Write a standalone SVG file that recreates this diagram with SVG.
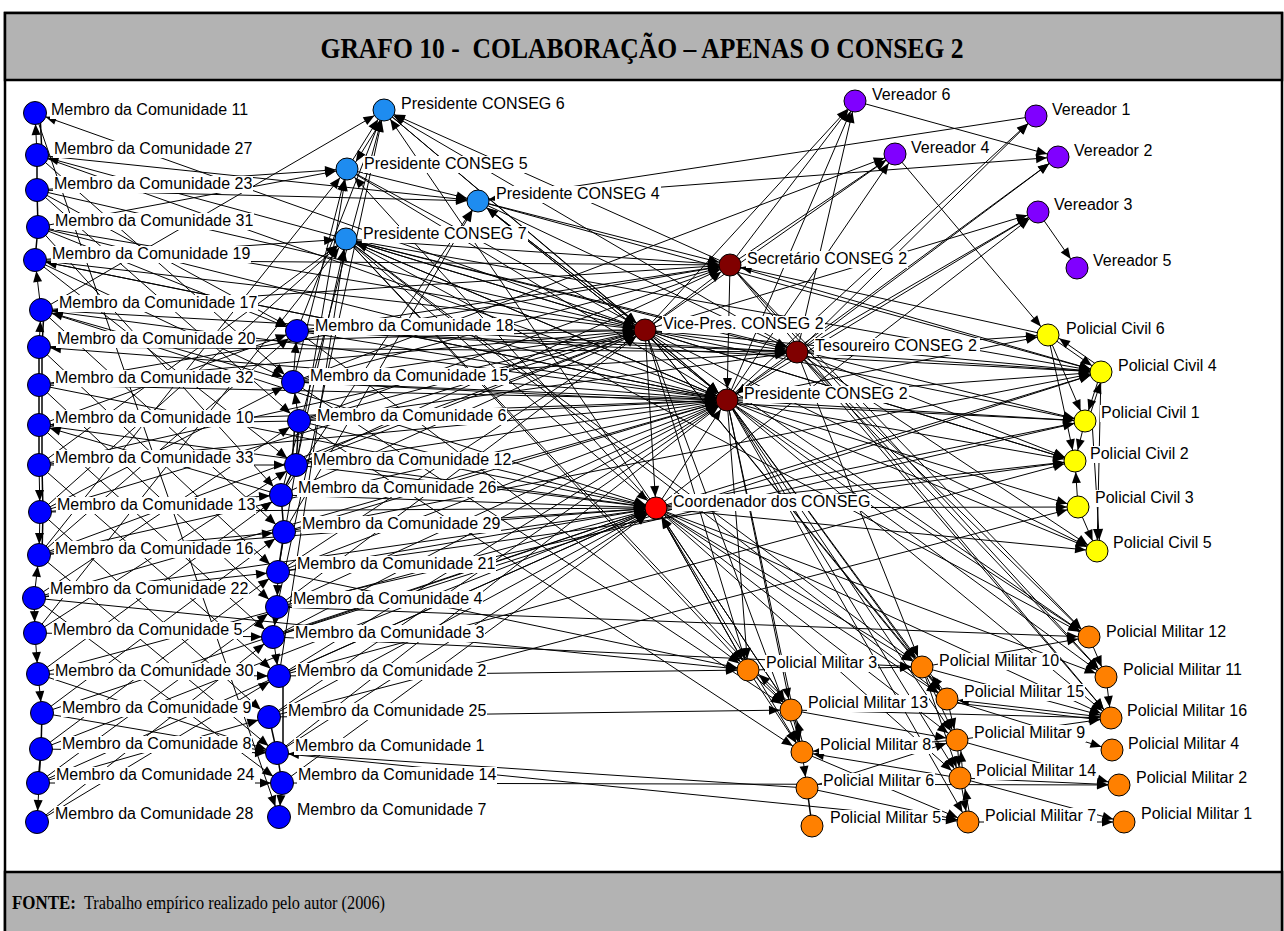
<svg xmlns="http://www.w3.org/2000/svg" width="1284" height="931" viewBox="0 0 1284 931">
<style>
.e path{fill:none;stroke:#000;stroke-width:1;marker-end:url(#ah)}
.p path{fill:none;stroke:#000;stroke-width:1.5}
.lb{fill:#fff}
.lt{font-family:"Liberation Sans",Arial,sans-serif;font-size:16px;fill:#000}
.n{stroke:#000;stroke-width:1}
.cm{fill:#0000ff}.cp{fill:#1e8cf0}.cv{fill:#8000ff}.cd{fill:#800000}.cr{fill:#ff0000}.cy{fill:#ffff00}.co{fill:#ff8000}
.hd{font-family:"Liberation Serif","Times New Roman",serif;fill:#000}
</style>
<defs>
<marker id="ah" viewBox="0 0 11 9" refX="22" refY="4.5" markerWidth="11" markerHeight="9" markerUnits="userSpaceOnUse" orient="auto" overflow="visible"><path d="M0,0L11,4.5L0,9z" fill="#000"/></marker>
</defs>

<!-- frame, title band and source band -->
<rect x="5" y="13" width="1277" height="930" fill="#fff" stroke="#000" stroke-width="2.5"/>
<rect x="5" y="13" width="1277" height="67" fill="#b3b3b3" stroke="#000" stroke-width="2.5"/>
<text class="hd" x="642" y="58" text-anchor="middle" font-size="29" font-weight="bold" textLength="643" lengthAdjust="spacingAndGlyphs">GRAFO 10 - &#160;COLABORAÇÃO – APENAS O CONSEG 2</text>

<g id="connectors">
<g class="p">
<path d="M40 113L42 155"/><path d="M37 190L37 155"/><path d="M38 227L37 190"/><path d="M38 227L35 260"/>
<path d="M44 310L42 347"/><path d="M39 347L39 385"/><path d="M42 347L42 385"/><path d="M39 385L39 425"/>
<path d="M42 385L42 425"/><path d="M39 425L39 465"/><path d="M42 425L42 465"/><path d="M42 465L43 512"/>
<path d="M43 512L42 555"/><path d="M42 713L41 749"/><path d="M41 749L38 783"/><path d="M296 465L299 421"/>
<path d="M292 465L295 421"/><path d="M281 495L296 465"/><path d="M284 532L281 495"/><path d="M278 572L284 532"/>
<path d="M283 676L283 753"/><path d="M269 717L277 753"/><path d="M277 753L282 783"/><path d="M807 788L812 826"/>
</g>
<g class="e">
<path d="M37 155L35 113"/><path d="M41 310L35 260"/><path d="M39 347L41 310"/><path d="M39 465L40 512"/>
<path d="M40 512L39 555"/><path d="M34 598L39 555"/><path d="M34 598L35 633"/><path d="M35 633L38 674"/>
<path d="M38 674L42 713"/><path d="M41 749L37 822"/><path d="M293 382L297 331"/><path d="M299 421L293 382"/>
<path d="M278 572L277 607"/><path d="M277 607L273 637"/><path d="M273 637L279 676"/><path d="M282 783L279 817"/>
<path d="M35 113L279 817"/><path d="M42 713L277 753"/><path d="M41 749L277 753"/><path d="M38 783L282 783"/>
<path d="M299 421L39 425"/><path d="M281 495L39 425"/><path d="M293 382L41 310"/><path d="M39 465L296 465"/>
<path d="M40 512L281 495"/><path d="M35 633L273 637"/><path d="M38 674L279 676"/><path d="M39 555L284 532"/>
<path d="M34 598L278 572"/><path d="M35 260L293 382"/>
<path d="M37 155L293 382"/><path d="M37 190L299 421"/><path d="M38 227L281 495"/><path d="M35 260L296 465"/>
<path d="M41 310L284 532"/><path d="M39 347L278 572"/><path d="M39 385L277 607"/><path d="M39 425L273 637"/>
<path d="M39 465L279 676"/><path d="M40 512L269 717"/><path d="M39 555L277 753"/><path d="M34 598L282 783"/>
<path d="M39 555L297 331"/><path d="M40 512L293 382"/><path d="M34 598L299 421"/><path d="M35 633L296 465"/>
<path d="M38 674L281 495"/><path d="M42 713L284 532"/><path d="M41 749L278 572"/><path d="M38 783L277 607"/>
<path d="M37 822L273 637"/><path d="M37 822L279 676"/><path d="M38 783L269 717"/><path d="M38 674L277 753"/>
<path d="M39 425L297 331"/><path d="M38 227L297 331"/><path d="M37 190L297 331"/>
<path d="M41 310L384 110"/><path d="M38 227L347 169"/><path d="M35 260L346 239"/><path d="M37 155L478 201"/>
<path d="M37 190L478 201"/><path d="M346 239L37 155"/><path d="M37 190L347 169"/><path d="M39 465L346 239"/>
<path d="M40 512L346 239"/><path d="M39 555L347 169"/><path d="M35 633L346 239"/><path d="M281 495L384 110"/>
<path d="M278 572L347 169"/><path d="M277 607L384 110"/><path d="M279 676L346 239"/><path d="M281 495L478 201"/>
<path d="M284 532L478 201"/><path d="M296 465L346 239"/><path d="M297 331L384 110"/><path d="M293 382L347 169"/>
<path d="M347 169L384 110"/><path d="M387 112L350 171"/><path d="M347 169L478 201"/><path d="M656 508L347 169"/>
<path d="M656 508L384 110"/><path d="M730 265L384 110"/><path d="M797 352L384 110"/><path d="M645 330L478 201"/>
<path d="M727 400L478 201"/><path d="M1036 116L478 201"/><path d="M478 201L1058 157"/><path d="M727 400L346 239"/>
<path d="M346 239L645 330"/><path d="M346 239L727 400"/><path d="M346 239L656 508"/><path d="M346 239L797 352"/>
<path d="M346 239L730 265"/><path d="M346 239L1085 421"/><path d="M346 239L1075 461"/><path d="M346 239L1101 372"/>
<path d="M346 239L922 667"/><path d="M346 239L791 710"/><path d="M346 239L947 699"/><path d="M346 239L1089 637"/>
<path d="M346 239L748 670"/><path d="M384 110L645 330"/><path d="M347 169L645 330"/><path d="M347 169L727 400"/>
<path d="M478 201L645 330"/><path d="M478 201L727 400"/><path d="M478 201L730 265"/><path d="M478 201L1101 372"/>
<path d="M478 201L797 352"/><path d="M384 110L727 400"/>
<path d="M37 190L645 330"/><path d="M38 227L645 330"/><path d="M35 260L645 330"/><path d="M39 347L645 330"/>
<path d="M39 385L645 330"/><path d="M39 465L645 330"/><path d="M40 512L645 330"/><path d="M297 331L645 330"/>
<path d="M293 382L645 330"/><path d="M299 421L645 330"/><path d="M296 465L645 330"/><path d="M281 495L645 330"/>
<path d="M278 572L645 330"/><path d="M277 607L645 330"/><path d="M39 555L645 330"/><path d="M645 330L35 113"/>
<path d="M37 155L727 400"/><path d="M38 227L727 400"/><path d="M35 260L727 400"/><path d="M41 310L727 400"/>
<path d="M727 400L39 347"/><path d="M39 385L727 400"/><path d="M39 425L727 400"/><path d="M39 465L727 400"/>
<path d="M39 555L727 400"/><path d="M34 598L727 400"/><path d="M297 331L727 400"/><path d="M293 382L727 400"/>
<path d="M299 421L727 400"/><path d="M296 465L727 400"/><path d="M284 532L727 400"/><path d="M278 572L727 400"/>
<path d="M277 607L727 400"/><path d="M273 637L727 400"/><path d="M279 676L727 400"/><path d="M269 717L727 400"/>
<path d="M277 753L727 400"/><path d="M727 400L35 260"/><path d="M797 352L41 310"/>
<path d="M41 310L656 508"/><path d="M39 385L656 508"/><path d="M39 425L656 508"/><path d="M40 512L656 508"/>
<path d="M39 555L656 508"/><path d="M34 598L656 508"/><path d="M38 674L656 508"/><path d="M42 713L656 508"/>
<path d="M38 783L656 508"/><path d="M299 421L656 508"/><path d="M296 465L656 508"/><path d="M281 495L656 508"/>
<path d="M284 532L656 508"/><path d="M278 572L656 508"/><path d="M273 637L656 508"/><path d="M279 676L656 508"/>
<path d="M269 717L656 508"/><path d="M277 753L656 508"/><path d="M282 783L656 508"/><path d="M41 749L656 508"/>
<path d="M35 260L730 265"/><path d="M39 385L730 265"/><path d="M297 331L730 265"/><path d="M293 382L730 265"/>
<path d="M296 465L730 265"/><path d="M41 310L730 265"/><path d="M299 421L730 265"/>
<path d="M293 382L797 352"/><path d="M299 421L797 352"/><path d="M297 331L797 352"/><path d="M39 347L797 352"/>
<path d="M645 330L727 400"/><path d="M797 352L727 400"/><path d="M645 330L797 352"/><path d="M730 265L727 400"/>
<path d="M645 330L730 265"/><path d="M656 508L727 400"/><path d="M645 330L656 508"/><path d="M791 710L656 508"/>
<path d="M748 670L656 508"/><path d="M1048 335L730 265"/>
<path d="M730 265L855 101"/><path d="M727 400L855 101"/><path d="M797 352L855 101"/><path d="M645 330L855 101"/>
<path d="M293 382L895 154"/><path d="M730 265L895 154"/><path d="M727 400L895 154"/><path d="M645 330L895 154"/>
<path d="M797 352L1036 116"/><path d="M727 400L1036 116"/><path d="M797 352L1058 157"/><path d="M727 400L1058 157"/>
<path d="M855 101L1058 157"/><path d="M797 352L1038 212"/><path d="M727 400L1038 212"/><path d="M645 330L1038 212"/>
<path d="M656 508L1038 212"/><path d="M1038 212L1077 268"/><path d="M895 154L1048 335"/>
<path d="M797 352L1048 335"/><path d="M727 400L1048 335"/><path d="M645 330L1101 372"/><path d="M727 400L1101 372"/>
<path d="M797 352L1101 372"/><path d="M730 265L1101 372"/><path d="M297 331L1101 372"/><path d="M656 508L1101 372"/>
<path d="M645 330L1085 421"/><path d="M727 400L1085 421"/><path d="M656 508L1085 421"/><path d="M293 382L1085 421"/>
<path d="M797 352L1075 461"/><path d="M727 400L1075 461"/><path d="M645 330L1075 461"/><path d="M656 508L1075 461"/>
<path d="M278 572L1075 461"/><path d="M279 676L1075 461"/><path d="M727 400L1078 507"/><path d="M656 508L1078 507"/>
<path d="M269 717L1078 507"/><path d="M727 400L1097 551"/><path d="M656 508L1097 551"/><path d="M797 352L1097 551"/>
<path d="M645 330L1097 551"/><path d="M277 607L1085 421"/><path d="M273 637L1101 372"/><path d="M284 532L1101 372"/>
<path d="M1048 335L1101 372"/><path d="M1103 369L1050 332"/><path d="M1101 372L1085 421"/><path d="M1088 421L1104 372"/>
<path d="M1048 335L1085 421"/><path d="M1085 421L1075 461"/><path d="M1078 507L1075 461"/><path d="M1078 507L1097 551"/>
<path d="M1092 421L1100 551"/><path d="M1101 372L1097 551"/><path d="M1048 335L1075 461"/>
<path d="M727 400L748 670"/><path d="M727 400L922 667"/><path d="M727 400L1089 637"/><path d="M727 400L1106 677"/>
<path d="M727 400L947 699"/><path d="M727 400L791 710"/><path d="M727 400L1111 718"/><path d="M727 400L957 740"/>
<path d="M727 400L802 752"/><path d="M727 400L960 778"/><path d="M727 400L968 822"/><path d="M656 508L748 670"/>
<path d="M656 508L791 710"/><path d="M656 508L922 667"/><path d="M656 508L947 699"/><path d="M656 508L802 752"/>
<path d="M656 508L957 740"/><path d="M656 508L960 778"/><path d="M656 508L1111 718"/><path d="M656 508L1106 677"/>
<path d="M645 330L922 667"/><path d="M645 330L1089 637"/><path d="M645 330L947 699"/><path d="M645 330L748 670"/>
<path d="M645 330L802 752"/><path d="M797 352L1089 637"/><path d="M797 352L1106 677"/><path d="M797 352L1111 718"/>
<path d="M797 352L922 667"/><path d="M730 265L1106 677"/><path d="M730 265L1111 718"/><path d="M730 265L1089 637"/>
<path d="M277 607L1089 637"/><path d="M34 598L748 670"/><path d="M273 637L922 667"/><path d="M269 717L791 710"/>
<path d="M279 676L748 670"/><path d="M277 753L968 822"/><path d="M282 783L1119 785"/><path d="M807 788L277 753"/>
<path d="M278 572L748 670"/><path d="M297 331L748 670"/><path d="M293 382L791 710"/><path d="M299 421L802 752"/>
<path d="M748 670L922 667"/><path d="M748 670L791 710"/><path d="M794 707L751 667"/><path d="M791 710L802 752"/>
<path d="M805 752L794 710"/><path d="M802 752L807 788"/><path d="M922 667L947 699"/><path d="M950 699L925 667"/>
<path d="M947 699L957 740"/><path d="M957 740L960 778"/><path d="M963 778L960 740"/><path d="M960 778L968 822"/>
<path d="M971 822L963 778"/><path d="M957 740L802 752"/><path d="M960 778L802 752"/><path d="M1089 637L1106 677"/>
<path d="M1106 677L1111 718"/><path d="M1111 718L947 699"/><path d="M947 702L1111 721"/><path d="M957 740L1111 718"/>
<path d="M922 667L1111 718"/><path d="M791 710L1111 718"/><path d="M960 778L1119 785"/><path d="M960 778L1124 822"/>
<path d="M968 822L1124 822"/><path d="M957 740L1119 785"/><path d="M922 667L1089 637"/><path d="M947 699L1112 750"/>
<path d="M802 752L968 822"/><path d="M807 788L968 822"/><path d="M807 788L957 740"/><path d="M791 710L957 740"/>
<path d="M748 670L802 752"/><path d="M922 667L957 740"/><path d="M922 667L960 778"/>
</g>
</g>

<!-- community members, left column -->
<g id="mc11"><rect class="lb" x="50" y="102" width="200" height="17"/><text class="lt" x="51" y="115">Membro da Comunidade 11</text><circle class="n cm" cx="35" cy="113" r="11.5"/></g>
<g id="mc27"><rect class="lb" x="53" y="141" width="200" height="17"/><text class="lt" x="54" y="154">Membro da Comunidade 27</text><circle class="n cm" cx="37" cy="155" r="11.5"/></g>
<g id="mc23"><rect class="lb" x="53" y="176" width="200" height="17"/><text class="lt" x="54" y="189">Membro da Comunidade 23</text><circle class="n cm" cx="37" cy="190" r="11.5"/></g>
<g id="mc31"><rect class="lb" x="54" y="213" width="200" height="17"/><text class="lt" x="55" y="226">Membro da Comunidade 31</text><circle class="n cm" cx="38" cy="227" r="11.5"/></g>
<g id="mc19"><rect class="lb" x="51" y="246" width="200" height="17"/><text class="lt" x="52" y="259">Membro da Comunidade 19</text><circle class="n cm" cx="35" cy="260" r="11.5"/></g>
<g id="mc17"><rect class="lb" x="58" y="295" width="200" height="17"/><text class="lt" x="59" y="308">Membro da Comunidade 17</text><circle class="n cm" cx="41" cy="310" r="11.5"/></g>
<g id="mc20"><rect class="lb" x="56" y="331" width="200" height="17"/><text class="lt" x="57" y="344">Membro da Comunidade 20</text><circle class="n cm" cx="39" cy="347" r="11.5"/></g>
<g id="mc32"><rect class="lb" x="54" y="370" width="200" height="17"/><text class="lt" x="55" y="383">Membro da Comunidade 32</text><circle class="n cm" cx="39" cy="385" r="11.5"/></g>
<g id="mc10"><rect class="lb" x="54" y="410" width="200" height="17"/><text class="lt" x="55" y="423">Membro da Comunidade 10</text><circle class="n cm" cx="39" cy="425" r="11.5"/></g>
<g id="mc33"><rect class="lb" x="54" y="450" width="200" height="17"/><text class="lt" x="55" y="463">Membro da Comunidade 33</text><circle class="n cm" cx="39" cy="465" r="11.5"/></g>
<g id="mc13"><rect class="lb" x="56" y="497" width="200" height="17"/><text class="lt" x="57" y="510">Membro da Comunidade 13</text><circle class="n cm" cx="40" cy="512" r="11.5"/></g>
<g id="mc16"><rect class="lb" x="54" y="541" width="200" height="17"/><text class="lt" x="55" y="554">Membro da Comunidade 16</text><circle class="n cm" cx="39" cy="555" r="11.5"/></g>
<g id="mc22"><rect class="lb" x="49" y="581" width="200" height="17"/><text class="lt" x="50" y="594">Membro da Comunidade 22</text><circle class="n cm" cx="34" cy="598" r="11.5"/></g>
<g id="mc5"><rect class="lb" x="52" y="622" width="191" height="17"/><text class="lt" x="53" y="635">Membro da Comunidade 5</text><circle class="n cm" cx="35" cy="633" r="11.5"/></g>
<g id="mc30"><rect class="lb" x="54" y="663" width="200" height="17"/><text class="lt" x="55" y="676">Membro da Comunidade 30</text><circle class="n cm" cx="38" cy="674" r="11.5"/></g>
<g id="mc9"><rect class="lb" x="61" y="700" width="191" height="17"/><text class="lt" x="62" y="713">Membro da Comunidade 9</text><circle class="n cm" cx="42" cy="713" r="11.5"/></g>
<g id="mc8"><rect class="lb" x="61" y="736" width="191" height="17"/><text class="lt" x="62" y="749">Membro da Comunidade 8</text><circle class="n cm" cx="41" cy="749" r="11.5"/></g>
<g id="mc24"><rect class="lb" x="55" y="767" width="200" height="17"/><text class="lt" x="56" y="780">Membro da Comunidade 24</text><circle class="n cm" cx="38" cy="783" r="11.5"/></g>
<g id="mc28"><rect class="lb" x="54" y="806" width="200" height="17"/><text class="lt" x="55" y="819">Membro da Comunidade 28</text><circle class="n cm" cx="37" cy="822" r="11.5"/></g>

<!-- community members, right column -->
<g id="mc18"><rect class="lb" x="314" y="318" width="200" height="17"/><text class="lt" x="315" y="331">Membro da Comunidade 18</text><circle class="n cm" cx="297" cy="331" r="11.5"/></g>
<g id="mc15"><rect class="lb" x="309" y="368" width="200" height="17"/><text class="lt" x="310" y="381">Membro da Comunidade 15</text><circle class="n cm" cx="293" cy="382" r="11.5"/></g>
<g id="mc6"><rect class="lb" x="316" y="408" width="191" height="17"/><text class="lt" x="317" y="421">Membro da Comunidade 6</text><circle class="n cm" cx="299" cy="421" r="11.5"/></g>
<g id="mc12"><rect class="lb" x="312" y="452" width="200" height="17"/><text class="lt" x="313" y="465">Membro da Comunidade 12</text><circle class="n cm" cx="296" cy="465" r="11.5"/></g>
<g id="mc26"><rect class="lb" x="297" y="480" width="200" height="17"/><text class="lt" x="298" y="493">Membro da Comunidade 26</text><circle class="n cm" cx="281" cy="495" r="11.5"/></g>
<g id="mc29"><rect class="lb" x="301" y="516" width="200" height="17"/><text class="lt" x="302" y="529">Membro da Comunidade 29</text><circle class="n cm" cx="284" cy="532" r="11.5"/></g>
<g id="mc21"><rect class="lb" x="296" y="556" width="200" height="17"/><text class="lt" x="297" y="569">Membro da Comunidade 21</text><circle class="n cm" cx="278" cy="572" r="11.5"/></g>
<g id="mc4"><rect class="lb" x="292" y="591" width="191" height="17"/><text class="lt" x="293" y="604">Membro da Comunidade 4</text><circle class="n cm" cx="277" cy="607" r="11.5"/></g>
<g id="mc3"><rect class="lb" x="294" y="625" width="191" height="17"/><text class="lt" x="295" y="638">Membro da Comunidade 3</text><circle class="n cm" cx="273" cy="637" r="11.5"/></g>
<g id="mc2"><rect class="lb" x="296" y="663" width="191" height="17"/><text class="lt" x="297" y="676">Membro da Comunidade 2</text><circle class="n cm" cx="279" cy="676" r="11.5"/></g>
<g id="mc25"><rect class="lb" x="287" y="703" width="200" height="17"/><text class="lt" x="288" y="716">Membro da Comunidade 25</text><circle class="n cm" cx="269" cy="717" r="11.5"/></g>
<g id="mc1"><rect class="lb" x="294" y="738" width="191" height="17"/><text class="lt" x="295" y="751">Membro da Comunidade 1</text><circle class="n cm" cx="277" cy="753" r="11.5"/></g>
<g id="mc14"><rect class="lb" x="297" y="767" width="200" height="17"/><text class="lt" x="298" y="780">Membro da Comunidade 14</text><circle class="n cm" cx="282" cy="783" r="11.5"/></g>
<g id="mc7"><rect class="lb" x="296" y="802" width="191" height="17"/><text class="lt" x="297" y="815">Membro da Comunidade 7</text><circle class="n cm" cx="279" cy="817" r="11.5"/></g>

<!-- presidents of other councils -->
<g id="pres6"><rect class="lb" x="400" y="96" width="166" height="17"/><text class="lt" x="401" y="109">Presidente CONSEG 6</text><circle class="n cp" cx="384" cy="110" r="11"/></g>
<g id="pres5"><rect class="lb" x="363" y="156" width="166" height="17"/><text class="lt" x="364" y="169">Presidente CONSEG 5</text><circle class="n cp" cx="347" cy="169" r="11"/></g>
<g id="pres4"><rect class="lb" x="495" y="186" width="166" height="17"/><text class="lt" x="496" y="199">Presidente CONSEG 4</text><circle class="n cp" cx="478" cy="201" r="11"/></g>
<g id="pres7"><rect class="lb" x="362" y="226" width="166" height="17"/><text class="lt" x="363" y="239">Presidente CONSEG 7</text><circle class="n cp" cx="346" cy="239" r="11"/></g>

<!-- CONSEG 2 board and coordinator -->
<g id="sec2"><rect class="lb" x="746" y="251" width="162" height="17"/><text class="lt" x="747" y="264">Secretário CONSEG 2</text><circle class="n cd" cx="730" cy="265" r="11"/></g>
<g id="vice2"><rect class="lb" x="662" y="316" width="163" height="17"/><text class="lt" x="663" y="329">Vice-Pres. CONSEG 2</text><circle class="n cd" cx="645" cy="330" r="11"/></g>
<g id="tes2"><rect class="lb" x="814" y="338" width="166" height="17"/><text class="lt" x="815" y="351">Tesoureiro CONSEG 2</text><circle class="n cd" cx="797" cy="352" r="11"/></g>
<g id="pres2"><rect class="lb" x="743" y="386" width="166" height="17"/><text class="lt" x="744" y="399">Presidente CONSEG 2</text><circle class="n cd" cx="727" cy="400" r="11"/></g>
<g id="coord"><rect class="lb" x="672" y="494" width="199" height="17"/><text class="lt" x="673" y="507">Coordenador dos CONSEG</text><circle class="n cr" cx="656" cy="508" r="11"/></g>

<!-- councillors -->
<g id="ver6"><rect class="lb" x="871" y="87" width="81" height="17"/><text class="lt" x="872" y="100">Vereador 6</text><circle class="n cv" cx="855" cy="101" r="11"/></g>
<g id="ver1"><rect class="lb" x="1051" y="102" width="81" height="17"/><text class="lt" x="1052" y="115">Vereador 1</text><circle class="n cv" cx="1036" cy="116" r="11"/></g>
<g id="ver4"><rect class="lb" x="910" y="140" width="81" height="17"/><text class="lt" x="911" y="153">Vereador 4</text><circle class="n cv" cx="895" cy="154" r="11"/></g>
<g id="ver2"><rect class="lb" x="1073" y="143" width="81" height="17"/><text class="lt" x="1074" y="156">Vereador 2</text><circle class="n cv" cx="1058" cy="157" r="11"/></g>
<g id="ver3"><rect class="lb" x="1053" y="197" width="81" height="17"/><text class="lt" x="1054" y="210">Vereador 3</text><circle class="n cv" cx="1038" cy="212" r="11"/></g>
<g id="ver5"><rect class="lb" x="1092" y="253" width="81" height="17"/><text class="lt" x="1093" y="266">Vereador 5</text><circle class="n cv" cx="1077" cy="268" r="11"/></g>

<!-- civil police -->
<g id="pc6"><rect class="lb" x="1065" y="321" width="101" height="17"/><text class="lt" x="1066" y="334">Policial Civil 6</text><circle class="n cy" cx="1048" cy="335" r="11"/></g>
<g id="pc4"><rect class="lb" x="1117" y="358" width="101" height="17"/><text class="lt" x="1118" y="371">Policial Civil 4</text><circle class="n cy" cx="1101" cy="372" r="11"/></g>
<g id="pc1"><rect class="lb" x="1100" y="405" width="101" height="17"/><text class="lt" x="1101" y="418">Policial Civil 1</text><circle class="n cy" cx="1085" cy="421" r="11"/></g>
<g id="pc2"><rect class="lb" x="1089" y="446" width="101" height="17"/><text class="lt" x="1090" y="459">Policial Civil 2</text><circle class="n cy" cx="1075" cy="461" r="11"/></g>
<g id="pc3"><rect class="lb" x="1094" y="490" width="101" height="17"/><text class="lt" x="1095" y="503">Policial Civil 3</text><circle class="n cy" cx="1078" cy="507" r="11"/></g>
<g id="pc5"><rect class="lb" x="1112" y="535" width="101" height="17"/><text class="lt" x="1113" y="548">Policial Civil 5</text><circle class="n cy" cx="1097" cy="551" r="11"/></g>

<!-- military police -->
<g id="pm3"><rect class="lb" x="765" y="655" width="113" height="17"/><text class="lt" x="766" y="668">Policial Militar 3</text><circle class="n co" cx="748" cy="670" r="11"/></g>
<g id="pm10"><rect class="lb" x="938" y="653" width="122" height="17"/><text class="lt" x="939" y="666">Policial Militar 10</text><circle class="n co" cx="922" cy="667" r="11"/></g>
<g id="pm12"><rect class="lb" x="1105" y="624" width="122" height="17"/><text class="lt" x="1106" y="637">Policial Militar 12</text><circle class="n co" cx="1089" cy="637" r="11"/></g>
<g id="pm11"><rect class="lb" x="1122" y="662" width="122" height="17"/><text class="lt" x="1123" y="675">Policial Militar 11</text><circle class="n co" cx="1106" cy="677" r="11"/></g>
<g id="pm15"><rect class="lb" x="963" y="684" width="122" height="17"/><text class="lt" x="964" y="697">Policial Militar 15</text><circle class="n co" cx="947" cy="699" r="11"/></g>
<g id="pm13"><rect class="lb" x="807" y="695" width="122" height="17"/><text class="lt" x="808" y="708">Policial Militar 13</text><circle class="n co" cx="791" cy="710" r="11"/></g>
<g id="pm16"><rect class="lb" x="1126" y="703" width="122" height="17"/><text class="lt" x="1127" y="716">Policial Militar 16</text><circle class="n co" cx="1111" cy="718" r="11"/></g>
<g id="pm9"><rect class="lb" x="973" y="725" width="113" height="17"/><text class="lt" x="974" y="738">Policial Militar 9</text><circle class="n co" cx="957" cy="740" r="11"/></g>
<g id="pm4"><rect class="lb" x="1127" y="736" width="113" height="17"/><text class="lt" x="1128" y="749">Policial Militar 4</text><circle class="n co" cx="1112" cy="750" r="11"/></g>
<g id="pm8"><rect class="lb" x="819" y="737" width="113" height="17"/><text class="lt" x="820" y="750">Policial Militar 8</text><circle class="n co" cx="802" cy="752" r="11"/></g>
<g id="pm14"><rect class="lb" x="975" y="763" width="122" height="17"/><text class="lt" x="976" y="776">Policial Militar 14</text><circle class="n co" cx="960" cy="778" r="11"/></g>
<g id="pm2"><rect class="lb" x="1135" y="770" width="113" height="17"/><text class="lt" x="1136" y="783">Policial Militar 2</text><circle class="n co" cx="1119" cy="785" r="11"/></g>
<g id="pm6"><rect class="lb" x="822" y="773" width="113" height="17"/><text class="lt" x="823" y="786">Policial Militar 6</text><circle class="n co" cx="807" cy="788" r="11"/></g>
<g id="pm5"><rect class="lb" x="829" y="810" width="113" height="17"/><text class="lt" x="830" y="823">Policial Militar 5</text><circle class="n co" cx="812" cy="826" r="11"/></g>
<g id="pm7"><rect class="lb" x="984" y="808" width="113" height="17"/><text class="lt" x="985" y="821">Policial Militar 7</text><circle class="n co" cx="968" cy="822" r="11"/></g>
<g id="pm1"><rect class="lb" x="1140" y="806" width="113" height="17"/><text class="lt" x="1141" y="819">Policial Militar 1</text><circle class="n co" cx="1124" cy="822" r="11"/></g>

<!-- source note -->
<rect x="5" y="872" width="1277" height="70" fill="#b3b3b3" stroke="#000" stroke-width="2.5"/>
<text class="hd" x="12" y="909" font-size="18" font-weight="bold" textLength="64" lengthAdjust="spacingAndGlyphs">FONTE:</text>
<text class="hd" x="84" y="909" font-size="18" textLength="301" lengthAdjust="spacingAndGlyphs">Trabalho empírico realizado pelo autor (2006)</text>
</svg>
